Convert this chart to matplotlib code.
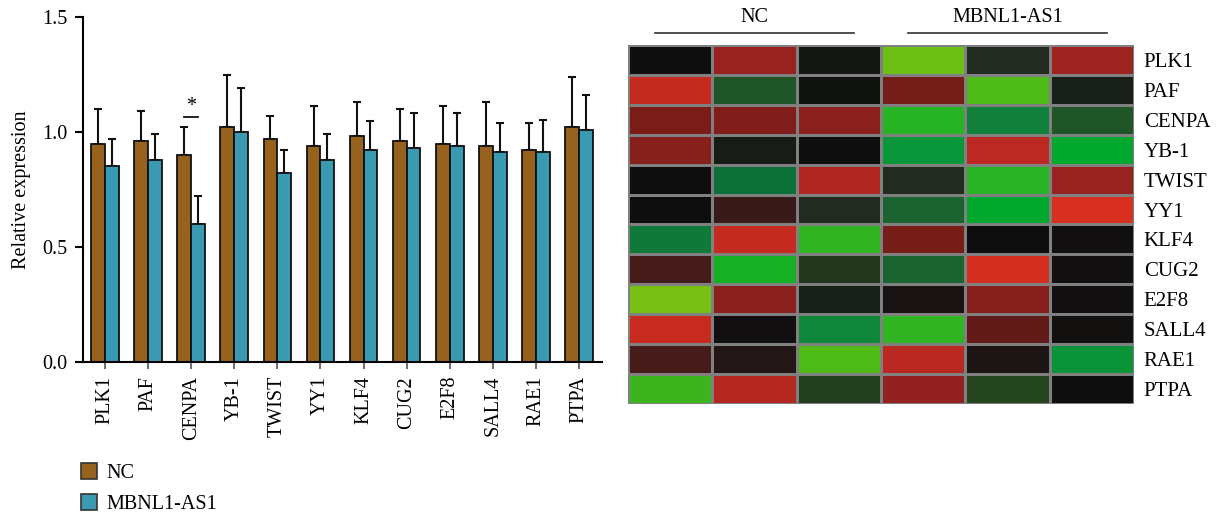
import numpy as np
import matplotlib
matplotlib.use("Agg")
import matplotlib.pyplot as plt
from matplotlib.colors import LinearSegmentedColormap
from matplotlib.patches import Patch

plt.rcParams['font.family'] = ['Liberation Serif', 'DejaVu Serif']
plt.rcParams['font.size'] = 14.5

# qPCR data
genes = ['PLK1', 'PAF', 'CENPA', 'YB-1', 'TWIST', 'YY1', 'KLF4', 'CUG2',
         'E2F8', 'SALL4', 'RAE1', 'PTPA']
nc_mean = [0.948, 0.961, 0.900, 1.022, 0.968, 0.940, 0.983, 0.959, 0.946, 0.938, 0.920, 1.020]
nc_top = [1.100, 1.090, 1.022, 1.250, 1.068, 1.112, 1.129, 1.099, 1.112, 1.129, 1.038, 1.239]
as1_mean = [0.852, 0.878, 0.600, 1.000, 0.821, 0.878, 0.920, 0.929, 0.938, 0.911, 0.911, 1.007]
as1_top = [0.968, 0.990, 0.720, 1.190, 0.920, 0.990, 1.046, 1.081, 1.081, 1.038, 1.051, 1.160]
groups = ['NC', 'MBNL1-AS1']
signif_gene = 'CENPA'

# heatmap values (rows = genes, cols = NC x3, MBNL1-AS1 x3)
heat_plk1 = [0.0, 0.70, -0.03, -0.97, -0.10, 0.72]
heat_paf = [0.90, -0.25, -0.01, 0.52, -0.90, -0.05]
heat_cenpa = [0.60, 0.61, 0.65, -0.68, -0.40, -0.25]
heat_yb1 = [0.64, -0.04, 0.0, -0.45, 0.85, -0.50]
heat_twist = [0.0, -0.35, 0.80, -0.10, -0.70, 0.70]
heat_yy1 = [0.0, 0.20, -0.10, -0.30, -0.50, 1.00]
heat_klf4 = [-0.38, 0.90, -0.74, 0.55, 0.0, 0.01]
heat_cug2 = [0.30, -0.60, -0.15, -0.30, 0.98, 0.01]
heat_e2f8 = [-1.00, 0.65, -0.05, 0.04, 0.64, 0.01]
heat_sall4 = [0.91, 0.01, -0.42, -0.74, 0.42, 0.02]
heat_rae1 = [0.30, 0.10, -0.90, 0.84, 0.06, -0.44]
heat_ptpa = [-0.80, 0.82, -0.18, 0.68, -0.20, 0.0]

heat = np.array([heat_plk1, heat_paf, heat_cenpa, heat_yb1, heat_twist, heat_yy1,
                 heat_klf4, heat_cug2, heat_e2f8, heat_sall4, heat_rae1, heat_ptpa])

nc_color = '#96621E'
as1_color = '#3A9AB2'

fig = plt.figure(figsize=(12.22, 5.17), dpi=100)

# ---- bar chart ----
ax = fig.add_axes([0.0679, 0.2998, 0.4247, 0.6673])
x = np.arange(len(genes))
w = 0.32
nc_err = np.array(nc_top) - np.array(nc_mean)
as1_err = np.array(as1_top) - np.array(as1_mean)
ax.bar(x - w / 2, nc_mean, w, color=nc_color, edgecolor='#111111', linewidth=1.3, zorder=2)
ax.bar(x + w / 2, as1_mean, w, color=as1_color, edgecolor='#111111', linewidth=1.3, zorder=2)
ax.errorbar(x - w / 2, nc_mean, yerr=[np.zeros(len(x)), nc_err], fmt='none',
            ecolor='#111111', elinewidth=1.5, capsize=3.2, capthick=1.5, zorder=1)
ax.errorbar(x + w / 2, as1_mean, yerr=[np.zeros(len(x)), as1_err], fmt='none',
            ecolor='#111111', elinewidth=1.5, capsize=3.2, capthick=1.5, zorder=1)

# significance mark
i = genes.index(signif_gene)
ys = nc_top[i] + 0.043
ax.plot([i - w / 2, i + w / 2], [ys, ys], color='#111111', lw=1.3)
ax.text(i, ys + 0.005, '*', ha='center', va='bottom', fontsize=14.5)

ax.set_xlim(-0.51, 11.53)
ax.set_ylim(0, 1.5)
ax.set_yticks([0, 0.5, 1.0, 1.5])
ax.set_yticklabels(['0.0', '0.5', '1.0', '1.5'])
ax.set_xticks(x)
ax.set_xticklabels(genes, rotation=90)
ax.spines['top'].set_visible(False)
ax.spines['right'].set_visible(False)
ax.spines['left'].set_linewidth(1.5)
ax.spines['bottom'].set_linewidth(1.5)
ax.tick_params(axis='y', length=6, width=1.5, pad=5)
ax.tick_params(axis='x', length=5, width=1.2, color='#555555', pad=5)
ax.set_ylabel('Relative expression', labelpad=8)

handles = [Patch(facecolor=nc_color, edgecolor='#333333', linewidth=1.2, label=groups[0]),
           Patch(facecolor=as1_color, edgecolor='#333333', linewidth=1.2, label=groups[1])]
fig.legend(handles=handles, loc='upper left', bbox_to_anchor=(0.0665, 0.105),
           frameon=False, handlelength=0.8, handleheight=0.85, handletextpad=0.45,
           labelspacing=0.58, borderaxespad=0, borderpad=0)

# ---- heatmap ----
stops = [(0.000, '#78C014'), (0.050, '#4ABA18'), (0.100, '#3CB41E'), (0.150, '#28B424'),
         (0.200, '#16B024'), (0.250, '#00AA2E'), (0.275, '#0A963A'), (0.300, '#107E3A'),
         (0.325, '#0D7038'), (0.350, '#1C6230'), (0.375, '#205628'), (0.400, '#24441E'),
         (0.425, '#22361E'), (0.450, '#222C20'), (0.475, '#181E18'), (0.500, '#0E0E0E'),
         (0.525, '#1C1414'), (0.550, '#221616'), (0.600, '#381A18'), (0.650, '#441C1A'),
         (0.700, '#5E1A18'), (0.750, '#721E18'), (0.800, '#7C1C18'), (0.825, '#8A201E'),
         (0.850, '#962220'), (0.900, '#B02822'), (0.925, '#BC2822'), (0.950, '#C42A20'),
         (1.000, '#D83020')]
cmap = LinearSegmentedColormap.from_list('red_black_green', stops)

hx = fig.add_axes([0.5139, 0.2186, 0.4141, 0.6944])
hx.pcolormesh(heat, cmap=cmap, vmin=-1, vmax=1, edgecolors='#808080', linewidth=0.8)
hx.set_xlim(0, 6)
hx.set_ylim(12, 0)
hx.set_xticks([])
hx.yaxis.tick_right()
hx.set_yticks(np.arange(len(genes)) + 0.5)
hx.set_yticklabels(genes, fontsize=15)
hx.tick_params(axis='y', length=0, pad=7)
for s in hx.spines.values():
    s.set_visible(False)

for k, name in enumerate(groups):
    c = 3 * k + 1.5
    hx.text(c, -0.92, name, ha='center', va='center', fontsize=14.5)
    hx.plot([c - 1.18, c + 1.18], [-0.4, -0.4], color='#333333', lw=1.2, clip_on=False)

fig.savefig('out.png', dpi=100)
